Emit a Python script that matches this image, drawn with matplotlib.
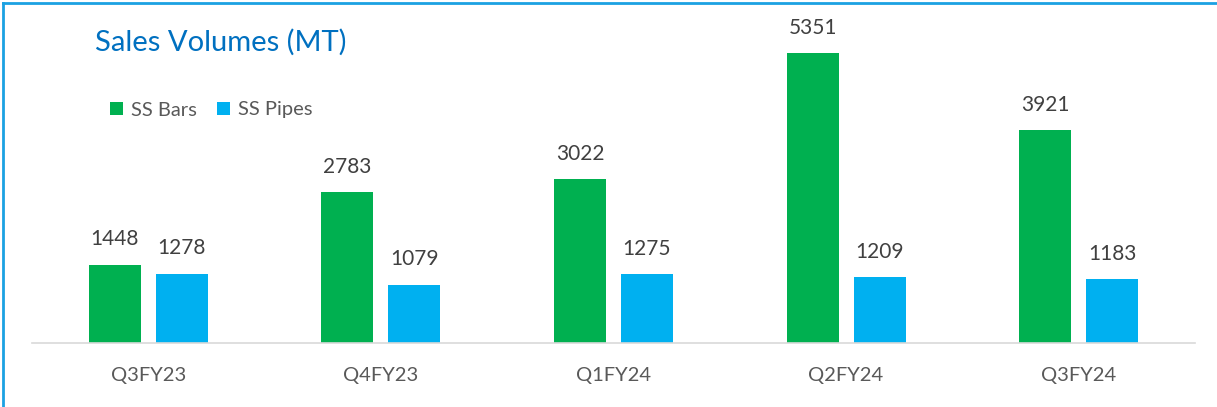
import numpy as np
import matplotlib.pyplot as plt
from matplotlib.lines import Line2D

# ===== DATA =====
quarters = ['Q3FY23', 'Q4FY23', 'Q1FY24', 'Q2FY24', 'Q3FY24']
ss_bars = [1448, 2783, 3022, 5351, 3921]
ss_pipes = [1278, 1079, 1275, 1209, 1183]

plt.rcParams['font.family'] = ['Lato', 'DejaVu Sans']

# ===== PLOT =====
fig = plt.figure(figsize=(12.17, 4.07), dpi=100)
ax = fig.add_axes([32 / 1217, 64 / 407, 1163 / 1217, 333 / 407])

x = np.arange(len(quarters))
w = 0.224
off = (w + 0.064) / 2
b1 = ax.bar(x - off, ss_bars, w, color='#00B050', label='SS Bars')
b2 = ax.bar(x + off, ss_pipes, w, color='#00B0F0', label='SS Pipes')

for bars in (b1, b2):
    for r in bars:
        ax.annotate(f'{int(r.get_height())}', (r.get_x() + r.get_width() / 2, r.get_height()),
                    xytext=(0, 11), textcoords='offset points', ha='center', va='bottom',
                    fontsize=15, color='#404040')

ax.set_xlim(-0.5, len(quarters) - 0.5)
ax.set_ylim(0, 6144)
ax.set_yticks([])
ax.set_xticks(x)
ax.set_xticklabels(quarters, fontsize=14.5, color='#595959')
ax.tick_params(axis='x', length=0, pad=17)
for s in ['top', 'right', 'left']:
    ax.spines[s].set_visible(False)
ax.spines['bottom'].set_color('#D9D9D9')
ax.spines['bottom'].set_linewidth(1.2)

fig.text(95 / 1217, 1 - 42 / 407, 'Sales Volumes (MT)', fontsize=21, color='#0070C0',
         ha='left', va='center')

leg = fig.legend(handles=[b1, b2], loc='center left', bbox_to_anchor=(102 / 1217, 1 - 110 / 407),
                 ncol=2, frameon=False, fontsize=14.5, handlelength=0.65, handleheight=0.65,
                 handletextpad=0.4, columnspacing=1.0, borderaxespad=0)
for t in leg.get_texts():
    t.set_color('#595959')

# frame lines on top and left
fig.add_artist(Line2D([3 / 1217, 1], [1 - 3 / 407, 1 - 3 / 407], color='#1BA1E2', lw=2))
fig.add_artist(Line2D([3 / 1217, 3 / 1217], [0, 1 - 3 / 407], color='#1BA1E2', lw=2))

fig.savefig('out.png', dpi=100)
